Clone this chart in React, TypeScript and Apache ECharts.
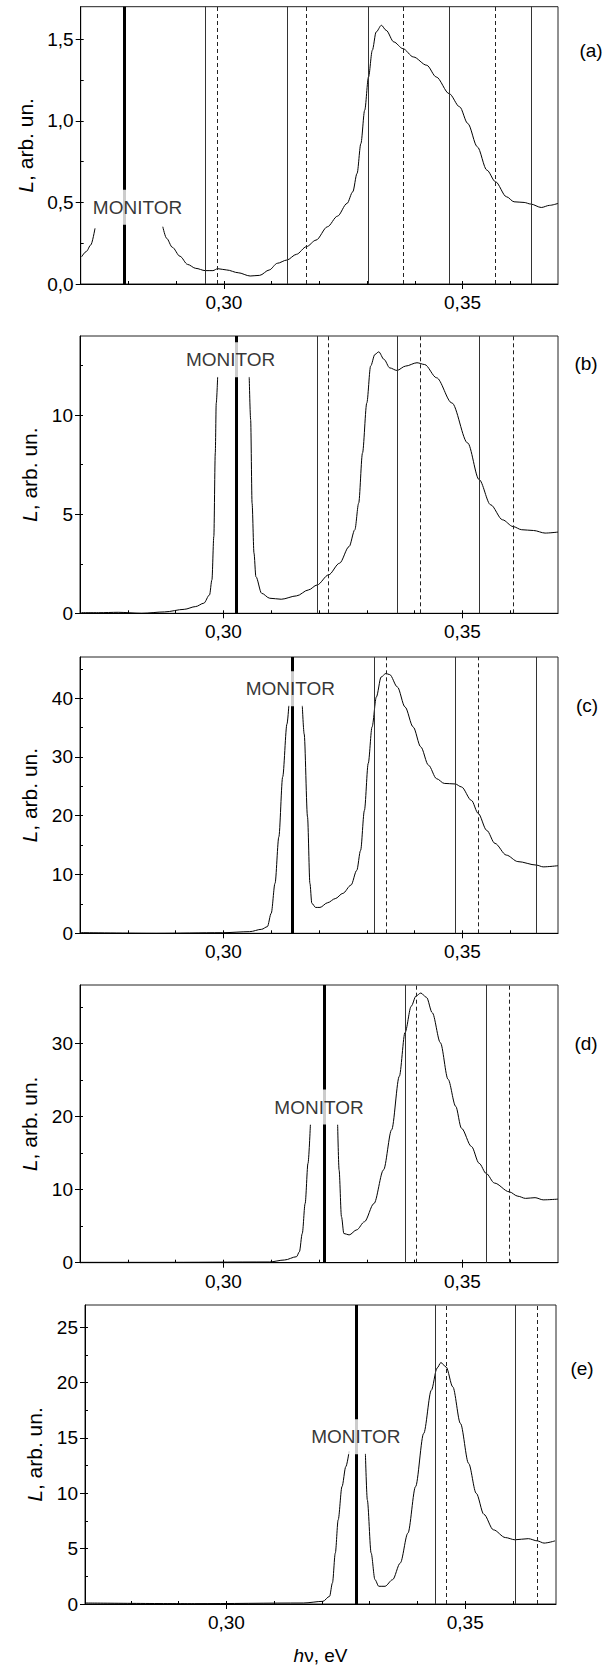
import React, { useEffect, useRef } from "react";
import * as echarts from "echarts";

const FONT = '"Liberation Sans", Arial, Helvetica, sans-serif';

// ---------- x axis ticks ----------
const xMajorTicks = [0.3, 0.35];
const xMinorTicks = [0.28, 0.29, 0.31, 0.32, 0.33, 0.34, 0.36];

// ---------- panel (a) ----------
const aBefore = [[0.2702, 0.167], [0.2712, 0.2], [0.2721, 0.239], [0.273, 0.341]];
const aAfter = [
  [0.2872, 0.351], [0.288, 0.28], [0.2892, 0.225], [0.2908, 0.17], [0.2924, 0.12], [0.2941, 0.096],
  [0.2961, 0.082], [0.2977, 0.082], [0.2987, 0.094], [0.3006, 0.086], [0.303, 0.069],
  [0.3055, 0.049], [0.3075, 0.053], [0.3095, 0.086], [0.3112, 0.127], [0.3132, 0.147],
  [0.3152, 0.182], [0.3173, 0.229], [0.3193, 0.269], [0.3217, 0.351], [0.3238, 0.416],
  [0.3258, 0.494], [0.327, 0.565], [0.3279, 0.678], [0.3287, 0.861], [0.3295, 1.065],
  [0.3303, 1.269], [0.3311, 1.433], [0.3319, 1.545], [0.333, 1.586], [0.334, 1.555],
  [0.3356, 1.484], [0.3375, 1.443], [0.3397, 1.392], [0.3425, 1.341], [0.3445, 1.269],
  [0.3472, 1.167], [0.3494, 1.086], [0.3511, 0.984], [0.3531, 0.841], [0.3551, 0.698],
  [0.3569, 0.627], [0.3592, 0.535], [0.3608, 0.504], [0.3629, 0.5], [0.3643, 0.49],
  [0.3665, 0.469], [0.3682, 0.482], [0.37, 0.494],
];
const aSolid = [0.2961, 0.3132, 0.3303, 0.3472, 0.3643];
const aDashed = [0.2987, 0.3173, 0.3375, 0.3569];
const aMonitor = 0.2791;
const aLabel = [0.2819, 0.47];
const aYMajor = [0, 0.5, 1.0, 1.5];
const aYMinor = [0.25, 0.75, 1.25];

// ---------- panel (b) ----------
const bBefore = [
  [0.2703, 0.03], [0.2739, 0.03], [0.278, 0.05], [0.2829, 0.0], [0.2877, 0.07], [0.2918, 0.2],
  [0.2942, 0.34], [0.2959, 0.51], [0.2971, 0.93], [0.2976, 1.69], [0.298, 3.88],
  [0.2983, 8.09], [0.2985, 10.6], [0.2988, 11.94],
];
const bAfter = [
  [0.3054, 11.94], [0.3057, 9.78], [0.306, 5.56], [0.3064, 3.04], [0.3068, 1.85], [0.308, 1.01],
  [0.3097, 0.76], [0.3121, 0.71], [0.3153, 0.88], [0.3178, 1.18], [0.3196, 1.43],
  [0.322, 1.94], [0.3243, 2.53], [0.3263, 3.37], [0.3275, 4.22], [0.3283, 5.56],
  [0.3291, 8.09], [0.33, 10.62], [0.3308, 12.48], [0.3317, 13.07], [0.3325, 13.2],
  [0.3336, 12.82], [0.3348, 12.39], [0.3363, 12.26], [0.3381, 12.48], [0.3405, 12.65],
  [0.3421, 12.56], [0.3446, 11.89], [0.3478, 10.62], [0.3511, 8.6], [0.3535, 6.75],
  [0.3559, 5.48], [0.3584, 4.72], [0.3606, 4.38], [0.3624, 4.22], [0.3649, 4.18],
  [0.3673, 4.05], [0.37, 4.1],
];
const bSolid = [0.3196, 0.3363, 0.3535];
const bDashed = [0.322, 0.3412, 0.3606];
const bMonitor = 0.3026;
const bLabel = [0.3015, 12.8];
const bYMajor = [0, 5, 10];
const bYMinor = [2.5, 7.5, 12.5];

// ---------- panel (c) ----------
const cBefore = [
  [0.2702, 0.11], [0.286, 0.0], [0.2998, 0.1], [0.3055, 0.28], [0.308, 0.68], [0.3092, 1.13],
  [0.31, 3.4], [0.3108, 8.5], [0.3116, 16.4], [0.3124, 26.6], [0.3133, 35.6], [0.3137, 38.8],
];
const cAfter = [
  [0.3165, 38.8], [0.3169, 33.9], [0.3176, 19.8], [0.3181, 8.5], [0.3185, 5.1], [0.3193, 4.4],
  [0.3202, 4.4], [0.3218, 5.2], [0.3234, 5.9], [0.325, 6.8], [0.3267, 8.2], [0.3279, 10.7],
  [0.3287, 14.1], [0.3295, 20.9], [0.3303, 28.9], [0.3311, 35.1], [0.332, 40.2],
  [0.333, 43.6], [0.334, 44.2], [0.3348, 44.0], [0.3364, 41.9], [0.338, 38.5],
  [0.3397, 35.1], [0.3413, 31.7], [0.3429, 28.6], [0.3446, 26.3], [0.3462, 25.5],
  [0.3485, 25.4], [0.3498, 24.9], [0.3519, 22.6], [0.3533, 20.4], [0.3551, 17.5],
  [0.3568, 15.3], [0.3592, 13.3], [0.3616, 12.2], [0.3655, 11.6], [0.3669, 11.3], [0.37, 11.5],
];
const cSolid = [0.3315, 0.3485, 0.3655];
const cDashed = [0.334, 0.3533];
const cMonitor = 0.3145;
const cLabel = [0.314, 41.6];
const cYMajor = [0, 10, 20, 30, 40];
const cYMinor = [5, 15, 25, 35, 45];

// ---------- panel (d) ----------
const dBefore = [
  [0.2702, 0.05], [0.286, 0.05], [0.3096, 0.1], [0.3128, 0.37], [0.3153, 0.82], [0.3159, 1.5],
  [0.3165, 4.0], [0.3171, 8.1], [0.3177, 13.6], [0.3182, 18.9],
];
const dAfter = [
  [0.3239, 18.9], [0.3242, 12.7], [0.3247, 6.3], [0.3252, 4.0], [0.3263, 3.8], [0.3279, 4.5],
  [0.3295, 5.6], [0.3315, 8.1], [0.3335, 12.7], [0.3352, 18.2], [0.3368, 25.5],
  [0.338, 31.5], [0.3393, 35.1], [0.3403, 36.5], [0.3413, 36.9], [0.3425, 36.3],
  [0.3437, 34.2], [0.3454, 30.1], [0.347, 25.1], [0.3486, 21.4], [0.3498, 18.4],
  [0.3519, 15.9], [0.3535, 13.6], [0.355, 12.2], [0.3567, 10.9], [0.3598, 9.7],
  [0.3616, 9.1], [0.3632, 8.8], [0.3652, 8.9], [0.3669, 8.6], [0.37, 8.7],
];
const dSolid = [0.338, 0.355];
const dDashed = [0.3403, 0.3598];
const dMonitor = 0.321;
const dLabel = [0.32, 21.3];
const dYMajor = [0, 10, 20, 30];
const dYMinor = [5, 15, 25, 35];

// ---------- panel (e) ----------
const eBefore = [
  [0.2704, 0.09], [0.2933, 0.03], [0.3161, 0.09], [0.3202, 0.24], [0.3216, 0.69], [0.3222, 1.9],
  [0.3228, 4.6], [0.3234, 7.6], [0.3242, 10.6], [0.325, 12.4], [0.3257, 13.8],
];
const eAfter = [
  [0.3291, 13.6], [0.3295, 9.4], [0.3303, 4.6], [0.3311, 2.2], [0.3319, 1.6], [0.3332, 1.6],
  [0.3348, 2.2], [0.3364, 3.7], [0.338, 6.4], [0.3396, 10.6], [0.3413, 15.4],
  [0.3429, 19.3], [0.3441, 21.3], [0.3449, 21.8], [0.346, 21.4], [0.3474, 19.6],
  [0.349, 16.3], [0.3507, 12.7], [0.3523, 10.0], [0.3539, 8.1], [0.3559, 6.7],
  [0.3584, 6.0], [0.3604, 5.8], [0.3632, 5.9], [0.3651, 5.7], [0.3665, 5.5], [0.3688, 5.7],
];
const eSolid = [0.3437, 0.3604];
const eDashed = [0.346, 0.3651];
const eMonitor = 0.3271;
const eLabel = [0.3271, 15.1];
const eYMajor = [0, 5, 10, 15, 20, 25];
const eYMinor = [2.5, 7.5, 12.5, 17.5, 22.5];

const panelTags = ["(a)", "(b)", "(c)", "(d)", "(e)"];

type Panel = {
  before: number[][];
  after: number[][];
  solid: number[];
  dashed: number[];
  monitor: number;
  label: number[];
  yMax: number;
  yMajor: number[];
  yMinor: number[];
  decimals: number;
  xMin: number;
  xMax: number;
  grid: { left: number; top: number; width: number; height: number };
  tag: { x: number; y: number };
  xName?: boolean;
};

const panels: Panel[] = [
  { before: aBefore, after: aAfter, solid: aSolid, dashed: aDashed, monitor: aMonitor, label: aLabel,
    yMax: 1.7, yMajor: aYMajor, yMinor: aYMinor, decimals: 1, xMin: 0.27, xMax: 0.37,
    grid: { left: 80.7, top: 6.7, width: 477.3, height: 277.3 }, tag: { x: 591, y: 50 } },
  { before: bBefore, after: bAfter, solid: bSolid, dashed: bDashed, monitor: bMonitor, label: bLabel,
    yMax: 14, yMajor: bYMajor, yMinor: bYMinor, decimals: 0, xMin: 0.27, xMax: 0.37,
    grid: { left: 80, top: 336, width: 478, height: 277.3 }, tag: { x: 586, y: 363 } },
  { before: cBefore, after: cAfter, solid: cSolid, dashed: cDashed, monitor: cMonitor, label: cLabel,
    yMax: 47, yMajor: cYMajor, yMinor: cYMinor, decimals: 0, xMin: 0.27, xMax: 0.37,
    grid: { left: 80, top: 657, width: 478, height: 276.3 }, tag: { x: 587, y: 705 } },
  { before: dBefore, after: dAfter, solid: dSolid, dashed: dDashed, monitor: dMonitor, label: dLabel,
    yMax: 38, yMajor: dYMajor, yMinor: dYMinor, decimals: 0, xMin: 0.27, xMax: 0.37,
    grid: { left: 80, top: 985, width: 478, height: 277.7 }, tag: { x: 586, y: 1043 } },
  { before: eBefore, after: eAfter, solid: eSolid, dashed: eDashed, monitor: eMonitor, label: eLabel,
    yMax: 27, yMajor: eYMajor, yMinor: eYMinor, decimals: 0, xMin: 0.2704, xMax: 0.369,
    grid: { left: 85, top: 1305, width: 471, height: 299.3 }, tag: { x: 582, y: 1368 }, xName: true },
];

function buildOption() {
  const grids: any[] = [];
  const xAxes: any[] = [];
  const yAxes: any[] = [];
  const series: any[] = [];
  const graphics: any[] = [];

  panels.forEach((p, i) => {
    grids.push({
      ...p.grid,
      show: true,
      borderColor: "#222",
      borderWidth: 1,
      backgroundColor: "transparent",
    });
    const fmtX = (v: number) => v.toFixed(2).replace(".", ",");
    const fmtY = (v: number) => v.toFixed(p.decimals).replace(".", ",");

    xAxes.push({
      type: "value",
      gridIndex: i,
      min: p.xMin,
      max: p.xMax,
      position: "bottom",
      splitLine: { show: false },
      axisLine: { show: true, lineStyle: { color: "#000", width: 1 } },
      axisTick: { show: true, customValues: xMajorTicks, length: 5, inside: false, lineStyle: { color: "#000" } },
      axisLabel: {
        show: true, customValues: xMajorTicks, formatter: fmtX, margin: 9,
        fontSize: 19, color: "#000", fontFamily: FONT,
      },
      name: p.xName ? "{i|h}ν, eV" : "",
      nameLocation: "middle",
      nameGap: 42,
      nameTextStyle: {
        fontSize: 19, color: "#000", fontFamily: FONT,
        rich: { i: { fontStyle: "italic", fontSize: 19, color: "#000", fontFamily: FONT } },
      },
    });
    xAxes.push({
      type: "value",
      gridIndex: i,
      min: p.xMin,
      max: p.xMax,
      position: "bottom",
      splitLine: { show: false },
      axisLine: { show: false },
      axisTick: { show: true, customValues: [...xMinorTicks, ...xMajorTicks], length: 3, inside: true, lineStyle: { color: "#000" } },
      axisLabel: { show: false, customValues: [] },
    });
    yAxes.push({
      type: "value",
      gridIndex: i,
      min: 0,
      max: p.yMax,
      position: "left",
      splitLine: { show: false },
      axisLine: { show: true, lineStyle: { color: "#000", width: 1 } },
      axisTick: { show: true, customValues: p.yMajor, length: 5, inside: false, lineStyle: { color: "#000" } },
      axisLabel: {
        show: true, customValues: p.yMajor, formatter: fmtY, margin: 7,
        fontSize: 19, color: "#000", fontFamily: FONT,
      },
      name: "{i|L}, arb. un.",
      nameLocation: "middle",
      nameGap: 40,
      nameRotate: 90,
      nameTextStyle: {
        fontSize: 21, color: "#000", fontFamily: FONT,
        rich: { i: { fontStyle: "italic", fontSize: 21, color: "#000", fontFamily: FONT } },
      },
    });
    yAxes.push({
      type: "value",
      gridIndex: i,
      min: 0,
      max: p.yMax,
      position: "left",
      splitLine: { show: false },
      axisLine: { show: false },
      axisTick: { show: true, customValues: [...p.yMinor, ...p.yMajor], length: 3, inside: true, lineStyle: { color: "#000" } },
      axisLabel: { show: false, customValues: [] },
    });

    const xi = 2 * i;
    const yi = 2 * i;
    const markData: any[] = [];
    p.solid.forEach((v) => markData.push({ xAxis: v, lineStyle: { type: "solid", color: "#333", width: 1 } }));
    p.dashed.forEach((v) => markData.push({ xAxis: v, lineStyle: { type: [4, 3], color: "#222", width: 1 } }));
    markData.push({ xAxis: p.monitor, lineStyle: { type: "solid", color: "#000", width: 3 } });

    const lineCommon = {
      type: "line",
      xAxisIndex: xi,
      yAxisIndex: yi,
      showSymbol: false,
      symbol: "none",
      smooth: 0.3,
      smoothMonotone: "x",
      lineStyle: { color: "#000", width: 1 },
      silent: true,
      z: 3,
    };
    series.push({
      ...lineCommon,
      data: p.before,
      markLine: {
        silent: true,
        precision: 6,
        symbol: ["none", "none"],
        label: { show: false },
        data: markData,
        animation: false,
      },
    });
    series.push({ ...lineCommon, data: p.after });
    series.push({
      type: "scatter",
      xAxisIndex: xi,
      yAxisIndex: yi,
      data: [p.label],
      symbolSize: 1,
      itemStyle: { color: "rgba(0,0,0,0)" },
      silent: true,
      z: 10,
      label: {
        show: true,
        position: "inside",
        formatter: "MONITOR",
        fontSize: 19,
        fontFamily: FONT,
        color: "#000",
        backgroundColor: "#fff",
        padding: [8, 3, 8, 3],
      },
    });

    graphics.push({
      type: "text",
      x: p.tag.x,
      y: p.tag.y,
      style: {
        text: panelTags[i],
        font: `19px ${FONT}`,
        fill: "#000",
        textAlign: "center",
        textVerticalAlign: "middle",
      },
    });
  });

  return {
    animation: false,
    backgroundColor: "#fff",
    grid: grids,
    xAxis: xAxes,
    yAxis: yAxes,
    series,
    graphic: graphics,
  };
}

export default function App() {
  const ref = useRef<HTMLDivElement>(null);
  useEffect(() => {
    document.body.style.margin = "0";
    if (!ref.current) return;
    const chart = echarts.init(ref.current, undefined, { renderer: "svg" });
    chart.setOption(buildOption());
    return () => chart.dispose();
  }, []);
  return <div ref={ref} style={{ width: 610, height: 1666 }} />;
}
